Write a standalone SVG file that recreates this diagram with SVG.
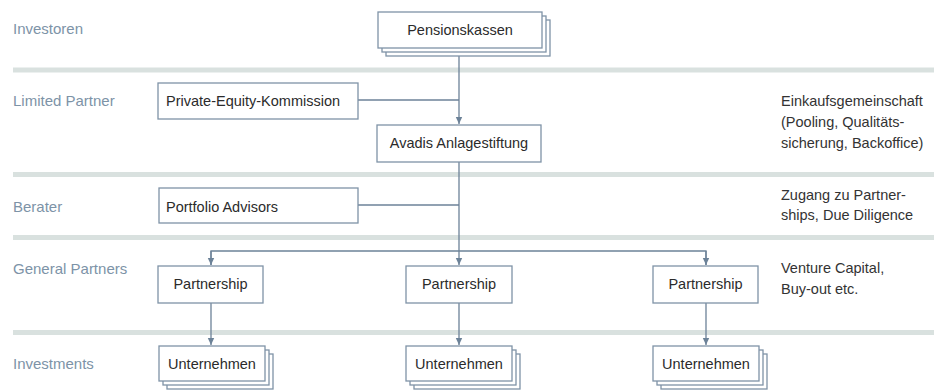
<svg xmlns="http://www.w3.org/2000/svg" width="934" height="390" viewBox="0 0 934 390">
<style>
.band{fill:#d9e1df}
.lbl{font-family:"Liberation Sans",Arial,sans-serif;font-size:15px;fill:#7d93a7}
.box{fill:#fff;stroke:#7f93a7;stroke-width:1.3}
.t{font-family:"Liberation Sans",Arial,sans-serif;font-size:14.5px;fill:#2b2b2b}
.c{text-anchor:middle}
.note{font-family:"Liberation Sans",Arial,sans-serif;font-size:14.5px;fill:#333}
.ln{fill:none;stroke:#6c8298;stroke-width:1.3}
</style>
<defs>
<marker id="arr" markerWidth="8" markerHeight="8" refX="7" refY="4" orient="auto" markerUnits="userSpaceOnUse">
<path d="M0,0.8 L7,4 L0,7.2 Z" fill="#6c8298"/>
</marker>
</defs>
<g id="bands">
<rect class="band" x="13" y="67.5" width="921" height="5"/>
<rect class="band" x="13" y="172" width="921" height="5"/>
<rect class="band" x="13" y="235" width="921" height="5"/>
<rect class="band" x="13" y="330" width="921" height="5"/>
</g>
<g id="labels">
<text class="lbl" x="13" y="34">Investoren</text>
<text class="lbl" x="13" y="106">Limited Partner</text>
<text class="lbl" x="13" y="212">Berater</text>
<text class="lbl" x="13" y="274">General Partners</text>
<text class="lbl" x="13" y="369">Investments</text>
</g>
<g id="notes">
<text class="note" x="781" y="106">Einkaufsgemeinschaft</text>
<text class="note" x="781" y="127">(Pooling, Qualitäts-</text>
<text class="note" x="781" y="148">sicherung, Backoffice)</text>
<text class="note" x="781" y="200">Zugang zu Partner-</text>
<text class="note" x="781" y="220">ships, Due Diligence</text>
<text class="note" x="781" y="273">Venture Capital,</text>
<text class="note" x="781" y="294">Buy-out etc.</text>
</g>
<g id="connectors">
<path class="ln" d="M459,48 V124" marker-end="url(#arr)"/>
<path class="ln" d="M358,100 H459"/>
<path class="ln" d="M358,205 H459"/>
<path class="ln" d="M459,162 V265" marker-end="url(#arr)"/>
<path class="ln" d="M211,265 V251 H706 V265" />
<path class="ln" d="M211,251 V265" marker-end="url(#arr)"/>
<path class="ln" d="M706,251 V265" marker-end="url(#arr)"/>
<path class="ln" d="M211,303 V345" marker-end="url(#arr)"/>
<path class="ln" d="M459,303 V345" marker-end="url(#arr)"/>
<path class="ln" d="M706,303 V345" marker-end="url(#arr)"/>
</g>
<g id="pensionskassen">
<rect class="box" x="386" y="20" width="164" height="36"/>
<rect class="box" x="382" y="16" width="164" height="36"/>
<rect class="box" x="378" y="12" width="164" height="36"/>
<text class="t c" x="460" y="35">Pensionskassen</text>
</g>
<g id="pek">
<rect class="box" x="158" y="83" width="200" height="36"/>
<text class="t" x="166" y="106">Private-Equity-Kommission</text>
</g>
<g id="avadis">
<rect class="box" x="377" y="125" width="164" height="37"/>
<text class="t c" x="459" y="148">Avadis Anlagestiftung</text>
</g>
<g id="portfolio">
<rect class="box" x="159" y="188" width="199" height="35"/>
<text class="t" x="166" y="212">Portfolio Advisors</text>
</g>
<g id="partnership1">
<rect class="box" x="158" y="266" width="105" height="37"/>
<text class="t c" x="210.5" y="289">Partnership</text>
</g>
<g id="partnership2">
<rect class="box" x="406" y="266" width="106" height="37"/>
<text class="t c" x="459" y="289">Partnership</text>
</g>
<g id="partnership3">
<rect class="box" x="653" y="266" width="105" height="37"/>
<text class="t c" x="705.5" y="289">Partnership</text>
</g>
<g id="unternehmen1">
<rect class="box" x="167" y="354" width="106" height="35"/>
<rect class="box" x="163" y="350" width="106" height="35"/>
<rect class="box" x="159" y="346" width="106" height="35"/>
<text class="t c" x="212" y="369">Unternehmen</text>
</g>
<g id="unternehmen2">
<rect class="box" x="414" y="354" width="106" height="35"/>
<rect class="box" x="410" y="350" width="106" height="35"/>
<rect class="box" x="406" y="346" width="106" height="35"/>
<text class="t c" x="459" y="369">Unternehmen</text>
</g>
<g id="unternehmen3">
<rect class="box" x="661" y="354" width="106" height="35"/>
<rect class="box" x="657" y="350" width="106" height="35"/>
<rect class="box" x="653" y="346" width="106" height="35"/>
<text class="t c" x="706" y="369">Unternehmen</text>
</g>
</svg>
